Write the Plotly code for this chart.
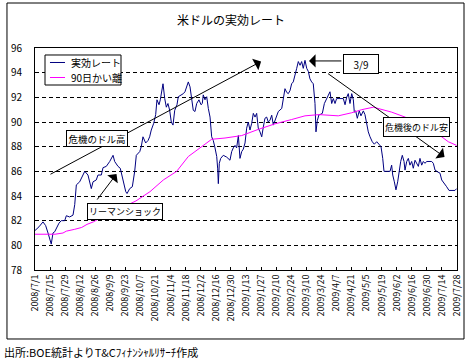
import pandas as pd
import plotly.graph_objects as go

base_date = pd.Timestamp("2008-07-01")

# 実効レート: days since 2008/7/1 and index values
rate_days = [
    0, 3.7, 7.4, 9.9, 12.1, 15.1, 16.7, 18.3, 22.3, 24.4,
    27.6, 29.1, 32.2, 35.3, 36.9, 38.4, 41.5, 44.6, 46.2, 49.2,
    52.3, 53.9, 56.9, 58.5, 61.6, 63.2, 66.2, 69.4, 72.5, 74.0,
    77.1, 79.2, 81.7, 84.3, 85.5, 88.0, 90.4, 92.6, 94.1, 97.3,
    98.7, 100.3, 102.8, 105.0, 106.5, 108.0, 110.3, 112.1, 113.3, 115.2,
    116.4, 117.3, 118.9, 120.5, 122.0, 123.5, 125.1, 126.6, 128.2, 129.8,
    131.9, 133.1, 136.3, 137.8, 139.3, 140.9, 142.4, 144.0, 144.9, 147.0,
    148.6, 150.2, 152.3, 154.2, 155.4, 156.3, 157.9, 159.5, 161.0, 162.6,
    164.1, 165.6, 167.2, 168.8, 169.7, 170.3, 171.2, 172.5, 174.9, 178.1,
    181.1, 182.7, 184.2, 185.8, 187.3, 188.9, 190.4, 192.0, 193.5, 195.1,
    196.6, 198.1, 199.7, 201.3, 202.8, 204.4, 205.9, 207.4, 209.0, 210.6,
    212.1, 213.6, 215.2, 216.7, 218.3, 219.9, 221.4, 222.9, 224.5, 226.0,
    229.2, 230.6, 232.2, 233.8, 235.3, 236.9, 238.4, 239.9, 241.5, 243.1,
    244.6, 246.2, 247.7, 249.2, 250.8, 252.4, 253.9, 255.4, 257.0, 258.5,
    260.1, 261.0, 262.2, 263.8, 264.7, 266.9, 268.8, 270.9, 272.5, 274.0,
    275.6, 277.1, 278.7, 280.2, 283.3, 286.4, 288.0, 289.5, 291.0, 292.6,
    294.2, 295.7, 296.6, 297.9, 299.4, 301.2, 302.8, 305.0, 306.5, 308.1,
    309.6, 311.2, 313.3, 315.2, 317.4, 319.5, 321.4, 323.0, 324.2, 326.7,
    329.8, 331.3, 332.3, 333.8, 335.3, 336.9, 338.1, 339.7, 341.2, 342.8,
    343.7, 345.3, 346.8, 348.3, 349.9, 351.4, 353.0, 354.6, 356.1, 357.6,
    359.2, 360.7, 362.3, 363.8, 368.5, 370.0, 371.6, 374.1, 376.2, 377.8,
    379.3, 380.8, 382.4, 384.6, 387.1, 390.1, 391.7,
]
rate_values = [
    81.2, 81.5, 81.9, 81.6, 81.0, 80.1, 81.0, 81.1, 81.8, 82.0,
    82.0, 82.4, 82.3, 82.45, 83.3, 84.9, 85.15, 85.7, 86.0, 85.7,
    84.6, 85.15, 85.3, 85.7, 85.7, 86.3, 86.4, 86.8, 87.3, 86.8,
    86.4, 86.25, 85.3, 84.35, 84.2, 84.6, 84.75, 86.0, 87.3, 87.6,
    88.0, 88.8, 88.3, 88.5, 88.8, 89.35, 89.9, 90.6, 91.8, 91.4,
    91.8, 92.3, 93.1, 91.9, 91.2, 91.5, 90.95, 90.0, 89.75, 90.95,
    91.4, 92.05, 92.2, 92.3, 92.45, 92.85, 93.25, 92.85, 92.2, 90.95,
    90.85, 91.5, 91.8, 91.4, 91.5, 92.2, 91.8, 92.05, 91.1, 90.4,
    88.8, 88.5, 87.9, 87.2, 86.2, 85.0, 86.65, 87.05, 87.3, 87.15,
    86.9, 87.6, 87.9, 88.1, 87.9, 88.9, 87.05, 87.6, 87.8, 88.3,
    89.5, 90.0, 89.35, 89.9, 90.7, 90.4, 90.7, 89.5, 89.2, 88.8,
    89.6, 90.3, 90.4, 90.0, 90.15, 90.55, 89.75, 90.15, 90.55, 90.85,
    91.1, 92.05, 92.7, 92.4, 92.3, 92.55, 93.1, 93.25, 93.95, 94.35,
    94.9, 94.6, 94.9, 94.35, 95.0, 94.35, 94.1, 93.5, 93.25, 93.1,
    91.5, 89.2, 90.1, 90.6, 90.6, 90.7, 91.5, 91.9, 92.3, 92.45,
    91.5, 91.9, 91.5, 91.9, 91.9, 91.9, 91.4, 92.0, 92.3, 91.5,
    92.3, 91.8, 90.8, 90.9, 90.3, 90.9, 90.5, 90.9, 90.6, 89.75,
    89.2, 88.8, 88.4, 88.2, 88.4, 88.2, 88.0, 87.05, 86.0, 86.0,
    86.0, 86.5, 85.7, 85.15, 84.5, 85.15, 86.0, 86.8, 87.3, 86.8,
    86.1, 86.8, 87.05, 86.5, 86.8, 86.25, 86.9, 86.65, 86.4, 87.05,
    86.5, 86.8, 86.65, 86.8, 86.8, 86.65, 86.1, 85.95, 85.85, 85.3,
    85.15, 85.0, 84.75, 84.45, 84.45, 84.45, 84.6,
]

# 90日かい離
ma_days = [
    0, 18.6, 26.0, 29.1, 36.9, 43.4, 48.3, 54.2, 60.4, 69.7,
    79.0, 86.4, 93.8, 106.8, 119.2, 131.6, 136.3, 142.4, 148.6, 156.3,
    164.1, 176.5, 192.0, 207.4, 222.9, 238.4, 250.8, 263.8, 281.7, 294.2,
    303.5, 314.3, 322.1, 331.3, 343.7, 357.6, 368.8, 377.8, 383.9, 391.7,
]
ma_values = [
    80.9, 80.9, 81.0, 81.15, 81.3, 81.45, 81.7, 81.9, 82.2, 82.6,
    83.0, 83.3, 83.6, 84.35, 85.3, 86.0, 86.5, 87.2, 87.6, 88.1,
    88.6, 88.7, 88.9, 89.4, 89.85, 90.2, 90.5, 90.6, 90.5, 90.75,
    91.0, 91.2, 91.0, 90.8, 90.4, 89.8, 89.2, 88.8, 88.4, 88.1,
]

tick_dates = [
    "2008-07-01", "2008-07-15", "2008-07-29", "2008-08-12", "2008-08-26",
    "2008-09-09", "2008-09-23", "2008-10-07", "2008-10-21", "2008-11-04",
    "2008-11-18", "2008-12-02", "2008-12-16", "2008-12-30", "2009-01-13",
    "2009-01-27", "2009-02-10", "2009-02-24", "2009-03-10", "2009-03-24",
    "2009-04-07", "2009-04-21", "2009-05-05", "2009-05-19", "2009-06-02",
    "2009-06-16", "2009-06-30", "2009-07-14", "2009-07-28",
]
tick_labels = [
    "2008/7/1", "2008/7/15", "2008/7/29", "2008/8/12", "2008/8/26",
    "2008/9/9", "2008/9/23", "2008/10/7", "2008/10/21", "2008/11/4",
    "2008/11/18", "2008/12/2", "2008/12/16", "2008/12/30", "2009/1/13",
    "2009/1/27", "2009/2/10", "2009/2/24", "2009/3/10", "2009/3/24",
    "2009/4/7", "2009/4/21", "2009/5/5", "2009/5/19", "2009/6/2",
    "2009/6/16", "2009/6/30", "2009/7/14", "2009/7/28",
]

series_names = ["実効レート", "90日かい離"]
series_colors = ["#000080", "#FF00FF"]

FONT = "Noto Sans CJK JP"

rate_x = base_date + pd.to_timedelta(rate_days, unit="D")
ma_x = base_date + pd.to_timedelta(ma_days, unit="D")

fig = go.Figure()
fig.add_trace(go.Scatter(x=rate_x, y=rate_values, mode="lines", name=series_names[0],
                         line=dict(color=series_colors[0], width=1), showlegend=False))
fig.add_trace(go.Scatter(x=ma_x, y=ma_values, mode="lines", name=series_names[1],
                         line=dict(color=series_colors[1], width=1), showlegend=False))

# arrows (tail -> head) in data coordinates
arrows = [
    ("2008-07-14", 85.70, "2009-01-27", 94.91),
    ("2008-08-26 17:00", 83.59, "2008-09-14 17:00", 85.78),
    ("2009-04-13", 94.95, "2009-03-12 12:00", 94.95),
    ("2009-03-28 19:00", 94.01, "2009-07-16 10:00", 87.16),
]
annotations = []
for tx, ty, hx, hy in arrows:
    annotations.append(dict(x=hx, y=hy, ax=tx, ay=ty, xref="x", yref="y", axref="x", ayref="y",
                            text="", showarrow=True, arrowhead=1, arrowsize=2.2, arrowwidth=1,
                            arrowcolor="black", standoff=0, startstandoff=0))

# callout boxes: text, x, y, font size, box width, box height
labels = [
    ("危機のドル高", "2008-08-27 14:00", 88.66, 9.5, 58, 13),
    ("リーマンショック", "2008-09-22 14:00", 82.74, 9, 72, 13),
    ("3/9", "2009-04-29 19:00", 94.70, 10, 32, 16),
    ("危機後のドル安", "2009-06-20 10:00", 89.59, 9, 63, 16),
]
for txt, lx, ly, fs, bw, bh in labels:
    annotations.append(dict(x=lx, y=ly, xref="x", yref="y", text=txt, showarrow=False,
                            font=dict(family=FONT, size=fs, color="black"),
                            width=bw, height=bh, align="center", valign="middle",
                            bgcolor="white", bordercolor="black", borderwidth=1, borderpad=1))

# legend (drawn as box + line samples + texts)
shapes = [dict(type="rect", xref="paper", yref="paper", x0=-0.0664, x1=1.0166,
               y0=-0.3108, y1=1.2027, line=dict(color="black", width=1),
               fillcolor="rgba(0,0,0,0)")]
shapes.append(dict(type="rect", xref="paper", yref="paper", x0=0.0237, x1=0.2038,
                   y0=0.8333, y1=0.9685, line=dict(color="black", width=1), fillcolor="white"))
legend_rows_y = [0.9347, 0.8671]
for name, color, ly in zip(series_names, series_colors, legend_rows_y):
    shapes.append(dict(type="line", xref="paper", yref="paper", x0=0.0355, x1=0.0711,
                       y0=ly, y1=ly, line=dict(color=color, width=1)))
    annotations.append(dict(x=0.0806, y=ly, xref="paper", yref="paper", text=name,
                            showarrow=False, xanchor="left", yanchor="middle",
                            font=dict(family=FONT, size=10, color="black")))

annotations.append(dict(x=-0.0782, y=-0.369, xref="paper", yref="paper",
                        text="出所:BOE統計よりT&Cﾌｨﾅﾝｼｬﾙﾘｻｰﾁ作成", showarrow=False,
                        xanchor="left", yanchor="middle",
                        font=dict(family=FONT, size=11, color="black")))

fig.update_layout(
    width=467, height=361,
    margin=dict(l=35, r=10, t=48, b=91),
    paper_bgcolor="white", plot_bgcolor="white",
    font=dict(family=FONT, size=10, color="black"),
    title=dict(text="米ドルの実効レート", x=231 / 467, xref="container", xanchor="center",
               y=1 - 21 / 361, yref="container", yanchor="middle",
               font=dict(family=FONT, size=12, color="black")),
    showlegend=False,
    annotations=annotations,
    shapes=shapes,
)
fig.update_xaxes(type="date", range=["2008-07-01", "2009-07-28"], automargin=False,
                 tickmode="array", tickvals=tick_dates, ticktext=tick_labels, tickangle=-90,
                 showgrid=False, showline=True, linecolor="black", linewidth=1, mirror=True,
                 ticks="inside", ticklen=3, tickcolor="black",
                 tickfont=dict(family=FONT, size=9))
fig.update_yaxes(range=[78, 96], dtick=2, tick0=78, automargin=False,
                 showgrid=True, gridcolor="black", gridwidth=1, griddash="4px,3px",
                 showline=True, linecolor="black", linewidth=1, mirror=True,
                 ticks="", ticklabelstandoff=10, zeroline=False,
                 tickfont=dict(family=FONT, size=10))

fig.write_html("out.html", config={"displayModeBar": False},
               post_script="document.body.style.margin='0px';")
